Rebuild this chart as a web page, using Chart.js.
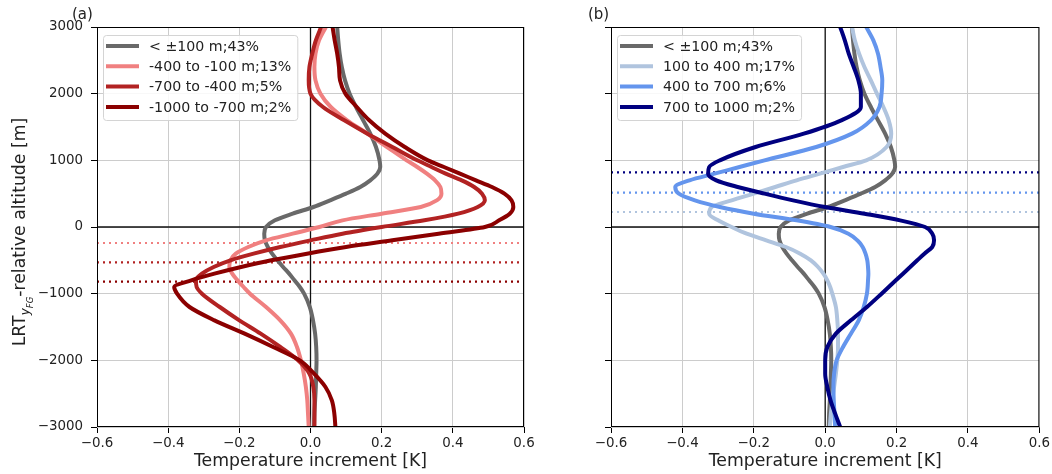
<!DOCTYPE html>
<html>
<head>
<meta charset="utf-8">
<script src="https://cdn.jsdelivr.net/npm/chart.js@4.4.1/dist/chart.umd.min.js"></script>
<style>
  html, body { margin: 0; padding: 0; background: #fff; }
  #wrap { position: relative; width: 1052px; height: 474px; }
  canvas { position: absolute; top: 0; }
  #chartA { left: 0; }
  #chartB { left: 540px; }
</style>
</head>
<body>
<div id="wrap">
  <canvas id="chartA" width="540" height="474"></canvas>
  <canvas id="chartB" width="512" height="474"></canvas>
</div>
<script>
// altitude levels (m), relative to the first-guess tropopause
const altitudes = [3000, 2800, 2600, 2400, 2200, 2000, 1800, 1600, 1400, 1200, 1000,
  900, 800, 700, 600, 500, 400, 300, 200, 100, 0, -100, -200, -300, -400, -500, -600, -700, -800, -900, -1000,
  -1200, -1400, -1600, -1800, -2000, -2200, -2400, -2600, -2800, -3000];

// mean temperature increment (K) per class
const within100 = [0.075, 0.078, 0.082, 0.088, 0.097, 0.11, 0.128, 0.148, 0.168, 0.184, 0.194,
  0.196, 0.188, 0.168, 0.14, 0.1, 0.055, 0.008, -0.05, -0.1, -0.125, -0.13, -0.128, -0.12, -0.108, -0.093, -0.077, -0.06, -0.045, -0.03, -0.018,
  -0.002, 0.007, 0.013, 0.016, 0.017, 0.016, 0.015, 0.013, 0.011, 0.01];
const minus400to100 = [0.043, 0.024, 0.014, 0.011, 0.014, 0.028, 0.057, 0.103, 0.16, 0.215, 0.27,
  0.3, 0.327, 0.35, 0.365, 0.368, 0.355, 0.31, 0.2, 0.09, 0.025, -0.05, -0.125, -0.175, -0.21, -0.225, -0.228, -0.22, -0.205, -0.188, -0.17,
  -0.125, -0.085, -0.055, -0.038, -0.027, -0.019, -0.013, -0.009, -0.007, -0.005];
const minus700to400 = [0.03, 0.015, 0.005, -0.003, -0.005, 0.0, 0.035, 0.095, 0.16, 0.23, 0.3,
  0.34, 0.38, 0.425, 0.46, 0.482, 0.49, 0.47, 0.415, 0.32, 0.2, 0.09, 0.0, -0.085, -0.16, -0.225, -0.272, -0.305, -0.322, -0.32, -0.305,
  -0.255, -0.2, -0.14, -0.085, -0.035, -0.003, 0.008, 0.011, 0.011, 0.011];
const minus1000to700 = [0.062, 0.068, 0.075, 0.08, 0.083, 0.098, 0.13, 0.165, 0.21, 0.265, 0.33,
  0.375, 0.42, 0.465, 0.51, 0.545, 0.565, 0.57, 0.56, 0.53, 0.49, 0.36, 0.23, 0.1, -0.01, -0.11, -0.195, -0.27, -0.335, -0.383, -0.375,
  -0.34, -0.27, -0.185, -0.105, -0.03, 0.01, 0.042, 0.06, 0.067, 0.07];
const plus100to400 = [0.075, 0.083, 0.095, 0.11, 0.128, 0.145, 0.163, 0.178, 0.185, 0.172, 0.115,
  0.05, -0.015, -0.08, -0.14, -0.2, -0.262, -0.318, -0.325, -0.3, -0.262, -0.22, -0.165, -0.11, -0.07, -0.04, -0.02, -0.005, 0.006, 0.014, 0.02,
  0.03, 0.034, 0.036, 0.036, 0.034, 0.03, 0.025, 0.02, 0.016, 0.013];
const plus400to700 = [0.115, 0.135, 0.148, 0.155, 0.16, 0.158, 0.152, 0.128, 0.075, -0.025, -0.17,
  -0.24, -0.31, -0.38, -0.42, -0.41, -0.365, -0.295, -0.2, -0.08, 0.015, 0.065, 0.09, 0.105, 0.113, 0.118, 0.12, 0.121, 0.12, 0.119, 0.117,
  0.108, 0.094, 0.072, 0.05, 0.032, 0.025, 0.023, 0.024, 0.026, 0.028];
const plus700to1000 = [0.042, 0.055, 0.066, 0.08, 0.093, 0.1, 0.1, 0.045, -0.06, -0.195, -0.295,
  -0.325, -0.328, -0.305, -0.245, -0.17, -0.09, 0.0, 0.11, 0.21, 0.28, 0.3, 0.305, 0.3, 0.278, 0.258, 0.238, 0.218, 0.198, 0.178, 0.158,
  0.117, 0.072, 0.03, 0.006, 0.0, 0.0, 0.006, 0.015, 0.028, 0.042];

const labelsA = ['< \u00b1100 m;43%', '-400 to -100 m;13%', '-700 to -400 m;5%', '-1000 to -700 m;2%'];
const labelsB = ['< \u00b1100 m;43%', '100 to 400 m;17%', '400 to 700 m;6%', '700 to 1000 m;2%'];

// mean altitude of each displaced class (dotted lines)
const classAltA = [-240, -530, -820];
const classAltB = [225, 515, 820];

const xTicks = [-0.6, -0.4, -0.2, 0.0, 0.2, 0.4, 0.6];
const yTicks = [-3000, -2000, -1000, 0, 1000, 2000, 3000];

const FONT = 'DejaVu Sans';
const TEXT = '#222';

function toPoints(values) {
  return altitudes.map((a, i) => ({ x: values[i], y: a })).reverse();
}

function minus(s) {
  return s.replace('-', '\u2212');
}

function profile(label, values, color, order) {
  return {
    label: label, data: toPoints(values), borderColor: color, backgroundColor: color,
    borderWidth: 4, pointRadius: 0, cubicInterpolationMode: 'monotone', fill: false,
    clip: 0, order: order, isProfile: true
  };
}

function hline(y, color, dash, width, order) {
  return {
    data: [{ x: xTicks[0], y: y }, { x: xTicks[xTicks.length - 1], y: y }],
    borderColor: color, borderWidth: width, borderDash: dash, pointRadius: 0,
    tension: 0, fill: false, clip: 0, order: order
  };
}

function vline(x, color, width, order) {
  return {
    data: [{ x: x, y: yTicks[0] }, { x: x, y: yTicks[yTicks.length - 1] }],
    borderColor: color, borderWidth: width, pointRadius: 0,
    tension: 0, fill: false, clip: 0, order: order
  };
}

// frame, legend, panel tag and the y title with subscripts
const panelDecor = {
  id: 'panelDecor',
  afterDraw(chart, args, opts) {
    const ctx = chart.ctx;
    const a = chart.chartArea;
    ctx.save();

    ctx.strokeStyle = '#000';
    ctx.lineWidth = 1;
    ctx.strokeRect(a.left + 0.5, a.top + 0.5, a.right - a.left - 1, a.bottom - a.top - 1);

    // legend
    ctx.font = '14.2px "' + FONT + '"';
    const items = chart.data.datasets.filter(d => d.isProfile);
    const textW = Math.max(...items.map(d => ctx.measureText(d.label).width));
    const bx = a.left + 6, by = a.top + 8;
    const bw = 46 + textW + 6, bh = 85;
    ctx.beginPath();
    ctx.roundRect(bx + 0.5, by + 0.5, bw, bh, 3);
    ctx.fillStyle = 'rgba(255,255,255,0.85)';
    ctx.fill();
    ctx.strokeStyle = '#d4d4d4';
    ctx.stroke();
    ctx.textAlign = 'left';
    ctx.textBaseline = 'middle';
    items.forEach((d, i) => {
      const y = by + 11 + i * 20.3;
      ctx.beginPath();
      ctx.moveTo(bx + 3, y);
      ctx.lineTo(bx + 36, y);
      ctx.strokeStyle = d.borderColor;
      ctx.lineWidth = 4;
      ctx.stroke();
      ctx.fillStyle = TEXT;
      ctx.fillText(d.label, bx + 46, y + 1);
    });

    // panel tag
    ctx.font = '15px "' + FONT + '"';
    ctx.fillStyle = TEXT;
    ctx.fillText(opts.tag, opts.tagX, 15);

    if (opts.yTitle) {
      ctx.translate(19, (a.top + a.bottom) / 2 + 5);
      ctx.rotate(-Math.PI / 2);
      const parts = [
        { t: 'LRT', f: '17.3px "' + FONT + '"', dy: 0 },
        { t: 'y', f: 'italic 12px "' + FONT + '"', dy: 4 },
        { t: 'FG', f: 'italic 8.5px "' + FONT + '"', dy: 7.5 },
        { t: '-relative altitude [m]', f: '17.3px "' + FONT + '"', dy: 0 }
      ];
      let total = 0;
      parts.forEach(p => { ctx.font = p.f; p.w = ctx.measureText(p.t).width; total += p.w; });
      let x = -total / 2;
      ctx.textBaseline = 'alphabetic';
      parts.forEach(p => {
        ctx.font = p.f;
        ctx.fillText(p.t, x, 6 + p.dy);
        x += p.w;
      });
    }
    ctx.restore();
  }
};

function makePanel(canvas, datasets, cfg) {
  return new Chart(canvas, {
    type: 'line',
    data: { datasets: datasets },
    plugins: [panelDecor],
    options: {
      indexAxis: 'y',
      responsive: false,
      animation: false,
      events: [],
      layout: { padding: { top: 27, right: cfg.right, left: 0, bottom: 0 } },
      plugins: {
        legend: { display: false },
        tooltip: { enabled: false },
        panelDecor: { tag: cfg.tag, tagX: cfg.tagX, yTitle: cfg.yTitle }
      },
      scales: {
        x: {
          type: 'linear', position: 'bottom', min: -0.6, max: 0.6,
          afterBuildTicks: s => { s.ticks = xTicks.map(v => ({ value: v })); },
          afterFit: s => { s.height = 47; },
          grid: { color: '#cccccc', lineWidth: 1, drawTicks: true, tickLength: 6, tickColor: '#000', tickWidth: 1 },
          border: { display: false },
          ticks: {
            autoSkip: false, maxRotation: 0, padding: 2, color: TEXT,
            font: { family: FONT, size: 13.4 },
            callback: v => minus((Math.round(v * 10) / 10).toFixed(1))
          },
          title: {
            display: true, text: 'Temperature increment [K]', color: TEXT,
            font: { family: FONT, size: 17.3 }, padding: { top: 0, bottom: 2 }
          }
        },
        y: {
          type: 'linear', position: 'left', min: -3000, max: 3000,
          afterBuildTicks: s => { s.ticks = yTicks.map(v => ({ value: v })); },
          afterFit: s => { s.width = cfg.yWidth; },
          grid: { color: '#cccccc', lineWidth: 1, drawTicks: true, tickLength: 6, tickColor: '#000', tickWidth: 1 },
          border: { display: false },
          ticks: {
            autoSkip: false, padding: 8, color: TEXT,
            font: { family: FONT, size: 13.4 },
            callback: v => cfg.yLabels ? minus(String(v)) : ''
          }
        }
      }
    }
  });
}

const datasetsA = [
  profile(labelsA[0], within100, '#696969', 3),
  profile(labelsA[1], minus400to100, '#f08080', 2),
  profile(labelsA[2], minus700to400, '#b22222', 1),
  profile(labelsA[3], minus1000to700, '#8b0000', 0),
  hline(classAltA[0], '#f08080', [2, 4], 2.2, 4),
  hline(classAltA[1], '#b22222', [2, 4], 2.2, 4),
  hline(classAltA[2], '#8b0000', [2, 4], 2.2, 4),
  hline(0, '#111', [], 1.3, 5),
  vline(0, '#111', 1.3, 5)
];

const datasetsB = [
  profile(labelsB[0], within100, '#696969', 3),
  profile(labelsB[1], plus100to400, '#b0c4de', 2),
  profile(labelsB[2], plus400to700, '#6495ed', 1),
  profile(labelsB[3], plus700to1000, '#000080', 0),
  hline(classAltB[0], '#b0c4de', [2, 4], 2.2, 4),
  hline(classAltB[1], '#6495ed', [2, 4], 2.2, 4),
  hline(classAltB[2], '#000080', [2, 4], 2.2, 4),
  hline(0, '#111', [], 1.3, 5),
  vline(0, '#111', 1.3, 5)
];

makePanel(document.getElementById('chartA'), datasetsA,
  { right: 16, yWidth: 97, yLabels: true, tag: '(a)', tagX: 72, yTitle: true });
makePanel(document.getElementById('chartB'), datasetsB,
  { right: 12, yWidth: 71, yLabels: false, tag: '(b)', tagX: 48, yTitle: false });
</script>
</body>
</html>
